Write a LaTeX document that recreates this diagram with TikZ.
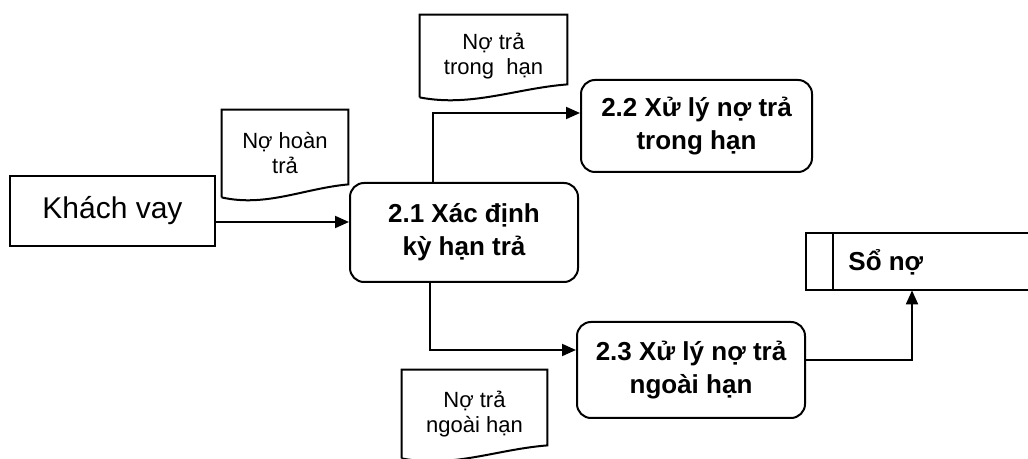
\documentclass[tikz,border=0pt]{standalone}
\usepackage{fontspec}
\setmainfont{Liberation Sans}
\usetikzlibrary{arrows.meta,calc}

\tikzset{
  edge/.style={line width=1pt},
  extbox/.style={draw, edge, inner sep=0pt, font=\fontsize{15}{18}\selectfont},
  procbox/.style={draw, edge, rounded corners=7pt, inner sep=0pt, align=center,
    font=\bfseries\fontsize{13}{16.5}\selectfont},
  docbox/.style={inner sep=0pt, align=center, font=\fontsize{11}{12.5}\selectfont},
  flow/.style={edge, -{Triangle[length=7pt,width=6pt]}},
}

% document symbol: box with a wavy lower edge, drawn round a named node
\newcommand\drawdoc[1]{%
  \draw[edge] (#1.south west) -- (#1.north west) -- (#1.north east)
    -- ($(#1.south east)+(0,-13)$)
    .. controls ($(#1.south east)!0.35!(#1.south west)+(0,-9)$)
       and ($(#1.south west)!0.35!(#1.south east)+(0,10)$) .. (#1.south west);}

\begin{document}
\begin{tikzpicture}[x=0.5pt,y=-0.5pt]
  \useasboundingbox (0,0) rectangle (1028,459);

  % external entity
  \node[extbox, minimum width=102.5pt, minimum height=35pt] (kv) at (112.5,211) {Khách vay};

  % processes
  \node[procbox, minimum width=114pt, minimum height=49.5pt] (p21) at (464,232.5)
    {2.1 Xác định\\kỳ hạn trả};
  \node[procbox, minimum width=115.5pt, minimum height=46pt] (p22) at (696.5,126)
    {2.2 Xử lý nợ trả\\trong hạn};
  \node[procbox, minimum width=114pt, minimum height=48pt] (p23) at (691,370)
    {2.3 Xử lý nợ trả\\ngoài hạn};

  % documents
  \node[docbox, minimum width=63pt, minimum height=43.5pt] (dhoan) at (285,153.5)
    {Nợ hoàn\\trả};
  \node[docbox, minimum width=73.5pt, minimum height=41pt] (dtrong) at (493.5,56)
    {Nợ trả\\trong\ \ hạn};
  \node[docbox, minimum width=72.5pt, minimum height=44pt] (dngoai) at (474.5,414)
    {Nợ trả\\ngoài hạn};
  \drawdoc{dhoan}
  \drawdoc{dtrong}
  \drawdoc{dngoai}

  % data store, open on the right
  \node[inner sep=0pt, minimum width=120pt, minimum height=28.5pt] (store) at (926,261.5) {};
  \node[anchor=west, inner sep=0pt, font=\bfseries\fontsize{13}{16}\selectfont] (sn) at (848,262) {Sổ nợ};
  \draw[edge] (store.north east) -- (store.north west) -- (store.south west) -- (store.south east);
  \draw[edge] ($(store.north west)+(27,0)$) -- ($(store.south west)+(27,0)$);

  % flows
  \draw[flow] ([yshift=-5.5pt]kv.east) -- ([yshift=-5.5pt]kv.east -| p21.west);
  \draw[flow] ([xshift=-15.5pt]p21.north) |- ([yshift=6.5pt]p22.west);
  \draw[flow] ([xshift=-17pt]p21.south) |- ([yshift=10pt]p23.west);
  \draw[flow] ([yshift=5pt]p23.east) -| ([xshift=-7pt]store.south);
\end{tikzpicture}
\end{document}
